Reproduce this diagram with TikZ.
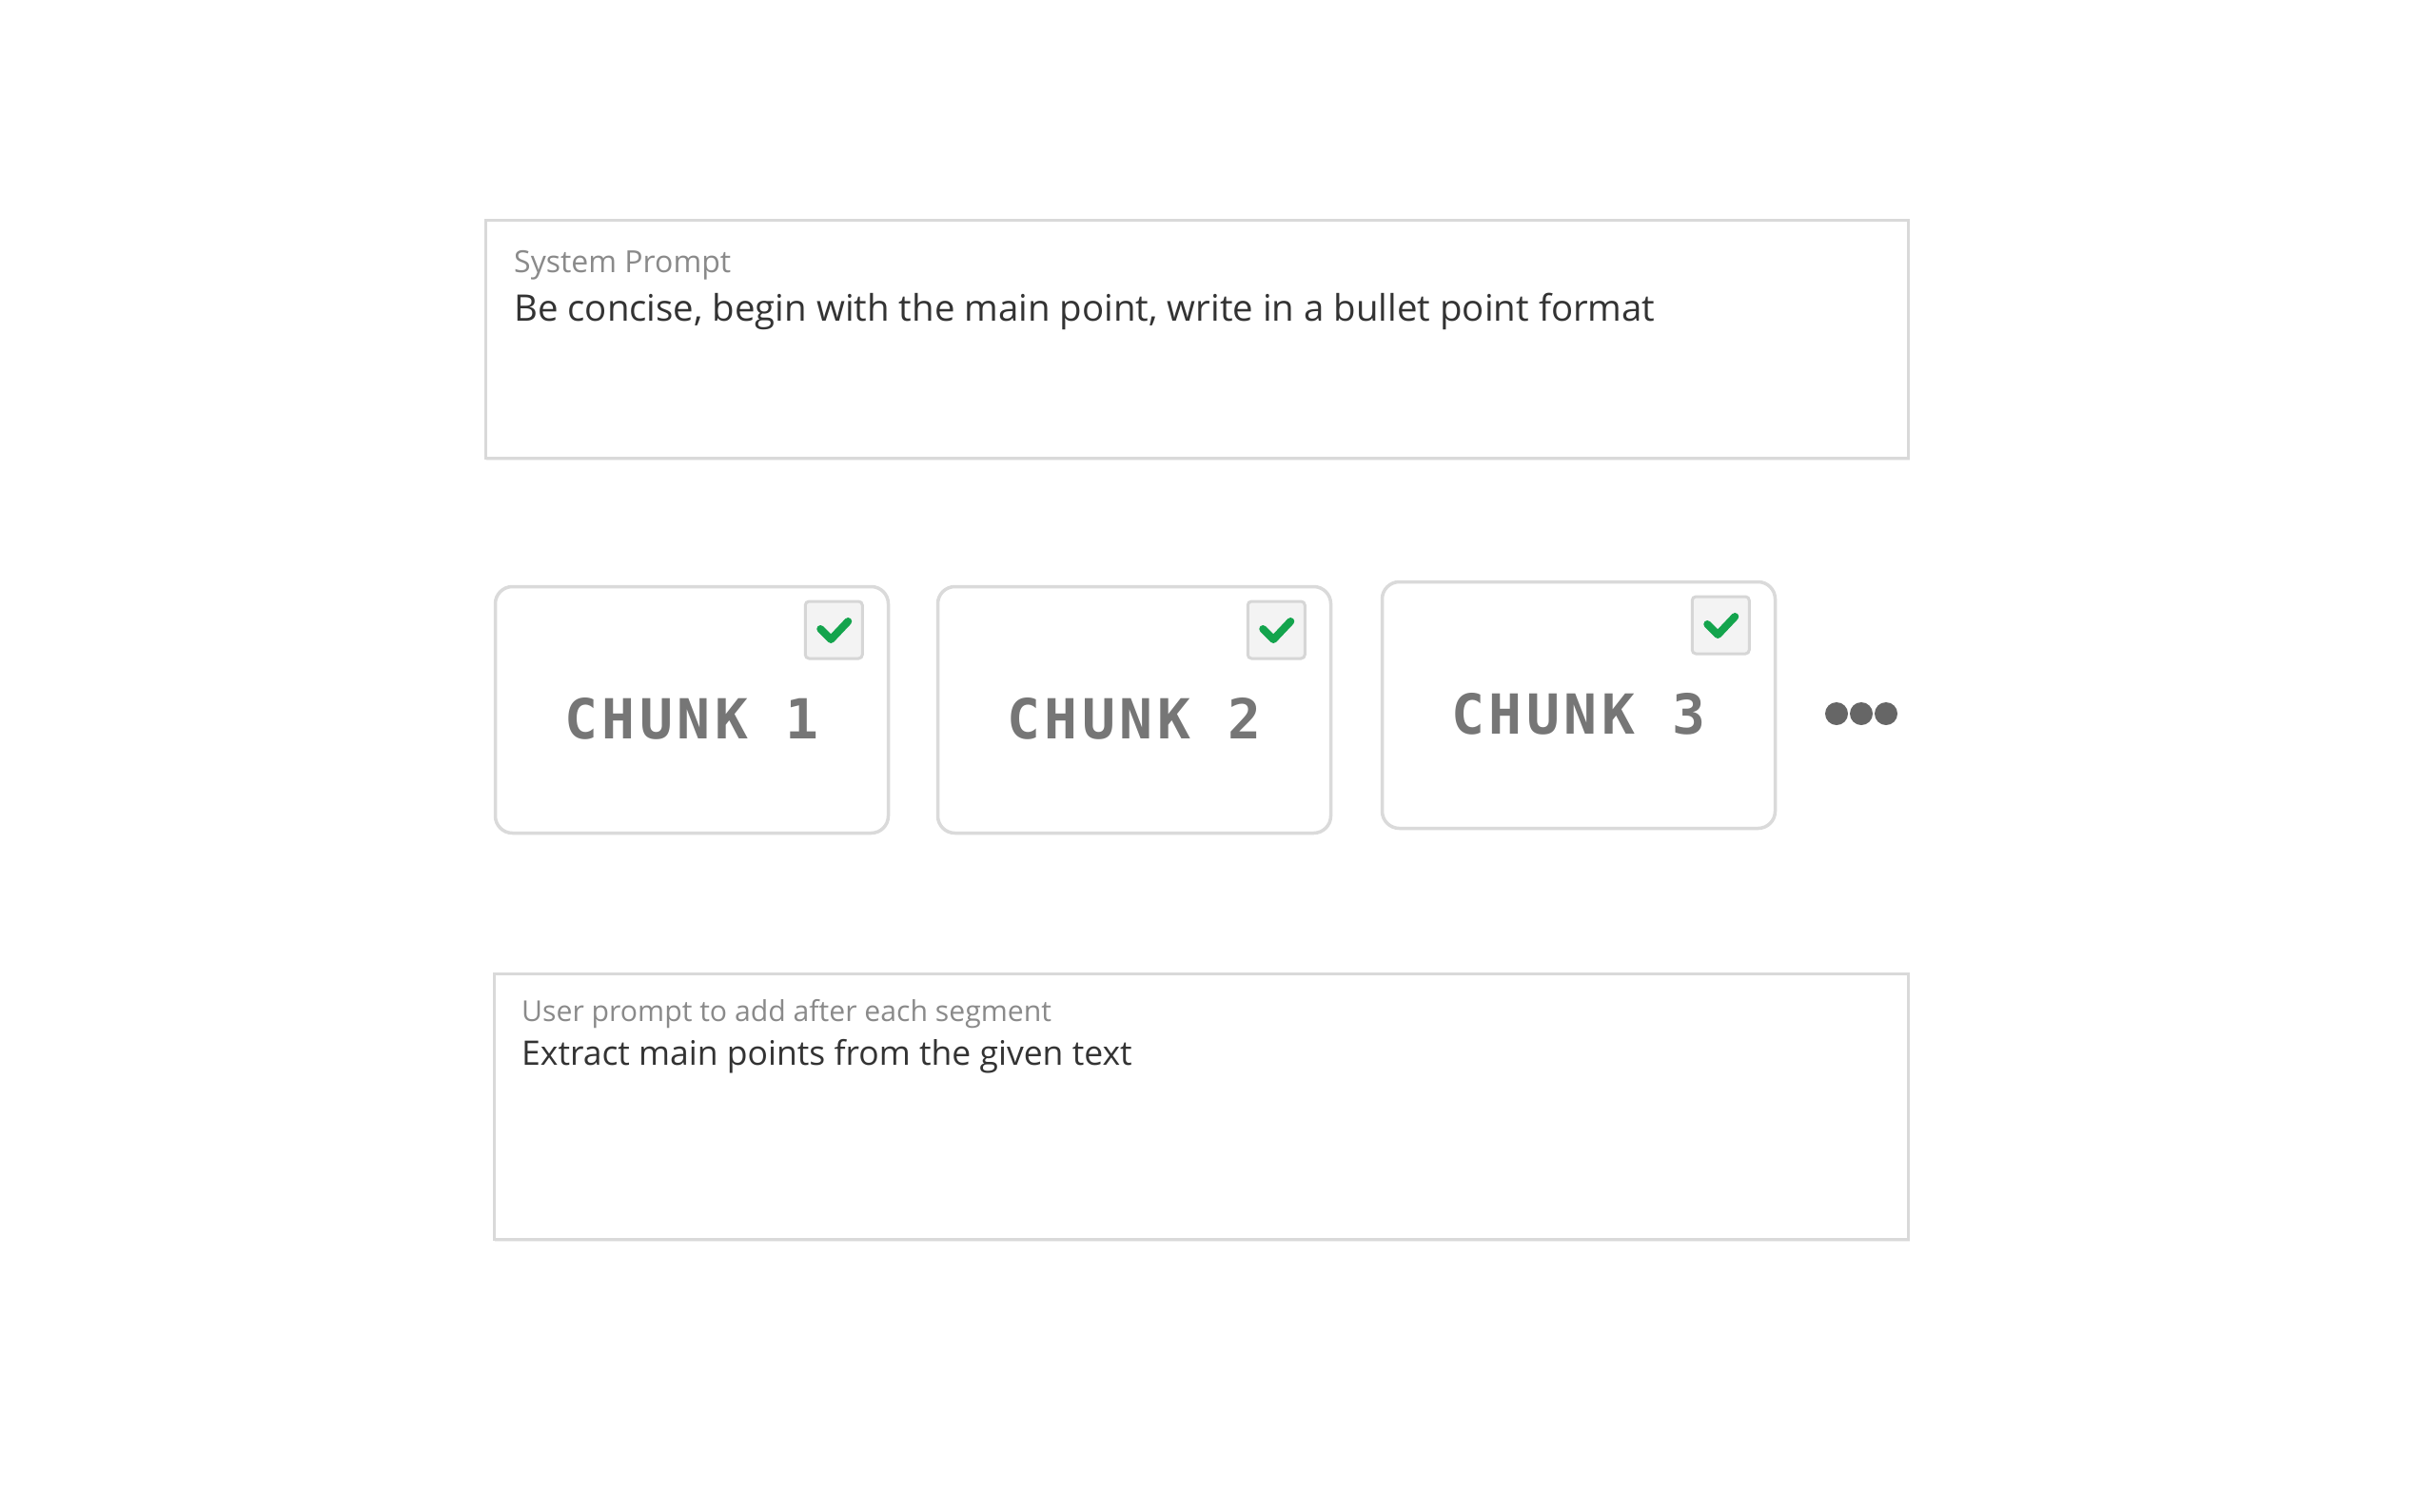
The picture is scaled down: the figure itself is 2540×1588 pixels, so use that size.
\documentclass[tikz,border=0pt]{standalone}
\usepackage{fontspec}
\setmainfont{Open Sans}
\newfontfamily\chunkfont{DejaVu Sans Mono}[LetterSpace=8]
\definecolor{boxline}{HTML}{D9D9D9}
\definecolor{chunkline}{HTML}{DADADA}
\definecolor{labelgray}{HTML}{8A8A8A}
\definecolor{maintext}{HTML}{333333}
\definecolor{chunkgray}{HTML}{767676}
\definecolor{checkfill}{HTML}{F3F3F3}
\definecolor{checkline}{HTML}{D6D6D6}
\definecolor{checkgreen}{HTML}{14A44D}
\definecolor{dotgray}{HTML}{666666}
\tikzset{
  promptbox/.style={draw=boxline, line width=2.5pt, fill=white},
  chunkbox/.style={draw=chunkline, line width=3.5pt, fill=white, rounded corners=18pt,
     minimum width=413pt, minimum height=259pt, inner sep=0pt},
  checkbox/.style={draw=checkline, line width=3pt, fill=checkfill, rounded corners=4pt,
     minimum width=60pt, minimum height=60pt, inner sep=0pt},
  tick/.style={draw=checkgreen, line width=8pt, line cap=round, line join=round},
  labeltext/.style={anchor=base west, inner sep=0pt, text=labelgray},
  maintxt/.style={anchor=base west, inner sep=0pt, text=maintext},
  chunktext/.style={inner sep=0pt, text=chunkgray, font=\chunkfont\bfseries\fontsize{58}{66}\selectfont},
  dot/.style={circle, fill=dotgray, minimum size=24pt, inner sep=0pt}
}
\begin{document}
\begin{tikzpicture}[x=1pt,y=-1pt]
\useasboundingbox (0,0) rectangle (2540,1588);
\fill[white] (0,0) rectangle (2540,1588);
% system prompt box
\fill[black!6] (511,233) rectangle (2007,484);
\node[promptbox, anchor=north west, minimum width=1495pt, minimum height=250pt, inner sep=0pt] (sys) at (509,230) {};
\node[labeltext, font=\fontsize{32}{38}\selectfont] (syslabel) at (540,286) {System Prompt};
\node[maintxt, font=\fontsize{38.4}{46}\selectfont] (systext) at (540,337) {Be concise, begin with the main point, write in a bullet point format};
% chunks
\foreach \i/\x/\y in {1/727/746, 2/1192/746, 3/1659/741} {
  \node[chunkbox] (chunk\i) at (\x,\y) {};
  \node[checkbox] (cb\i) at ([xshift=-59pt, yshift=84pt]chunk\i.east) {};
  \draw[tick] ([xshift=-14pt,yshift=1pt]cb\i.center) -- ([xshift=-3pt,yshift=-10pt]cb\i.center) -- ([xshift=15pt,yshift=9pt]cb\i.center);
  \node[chunktext] (ct\i) at ([yshift=-9pt]chunk\i.center) {CHUNK \i};
}
\node[dot] (d1) at (1930,750) {};
\node[dot] (d2) at (1956,750) {};
\node[dot] (d3) at (1982,750) {};
% user prompt box
\fill[black!6] (520,1025) rectangle (2007,1305);
\node[promptbox, anchor=north west, minimum width=1486pt, minimum height=279pt, inner sep=0pt] (usr) at (518,1022) {};
\node[labeltext, font=\fontsize{30.2}{36}\selectfont] (usrlabel) at (548,1073) {User prompt to add after each segment};
\node[maintxt, font=\fontsize{35.5}{42}\selectfont] (usrtext) at (548,1119) {Extract main points from the given text};
\end{tikzpicture}
\end{document}
